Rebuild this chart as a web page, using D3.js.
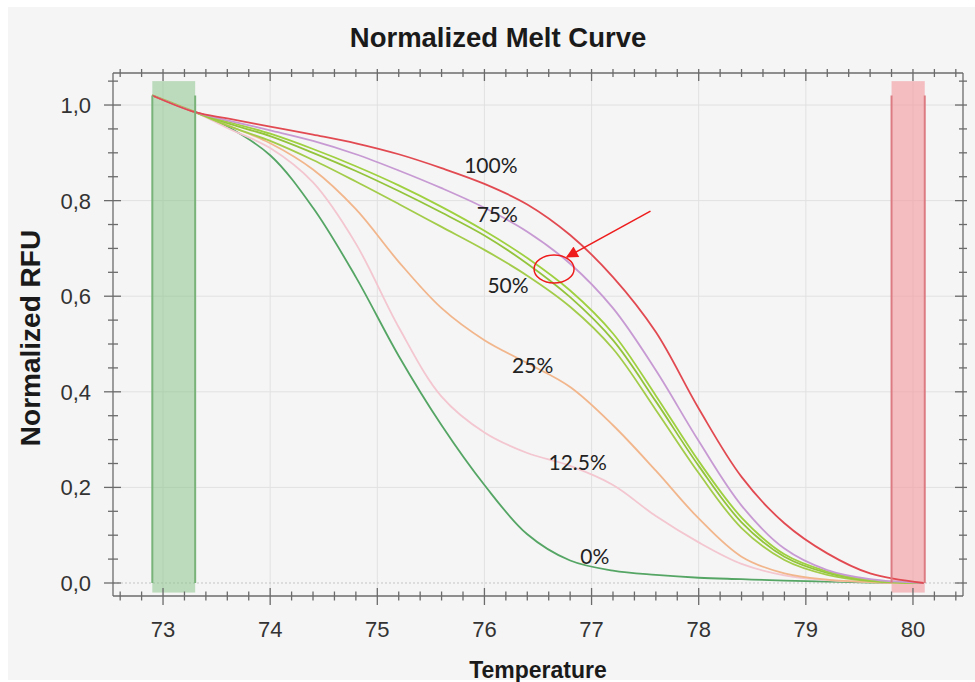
<!DOCTYPE html>
<html>
<head>
<meta charset="utf-8">
<script src="https://cdn.jsdelivr.net/npm/d3@7"></script>
<style>
  html, body { margin: 0; padding: 0; background: #ffffff; }
  svg { display: block; }
</style>
</head>
<body>
<svg id="chart" width="975" height="682"></svg>
<script>
// ---------------- data ----------------
const temps = [72.9, 73.3, 73.6, 74.0, 74.4, 74.8, 75.2, 75.6, 76.0, 76.4, 76.8, 77.2, 77.6, 78.0, 78.4, 78.8, 79.2, 79.6, 80.1];

const red100   = [1.02, 0.985, 0.972, 0.955, 0.938, 0.920, 0.897, 0.868, 0.835, 0.792, 0.728, 0.640, 0.525, 0.365, 0.222, 0.125, 0.062, 0.020, 0.0];
const purple75 = [1.02, 0.985, 0.968, 0.947, 0.925, 0.897, 0.863, 0.826, 0.785, 0.735, 0.668, 0.575, 0.445, 0.297, 0.162, 0.072, 0.027, 0.008, 0.0];
const greenA50 = [1.02, 0.985, 0.965, 0.940, 0.908, 0.872, 0.832, 0.787, 0.737, 0.680, 0.612, 0.522, 0.392, 0.255, 0.137, 0.060, 0.024, 0.006, 0.0];
const greenB50 = [1.02, 0.985, 0.962, 0.935, 0.900, 0.862, 0.820, 0.775, 0.727, 0.668, 0.598, 0.508, 0.380, 0.245, 0.127, 0.055, 0.021, 0.005, 0.0];
const greenC50 = [1.02, 0.985, 0.957, 0.925, 0.885, 0.840, 0.793, 0.745, 0.697, 0.643, 0.578, 0.490, 0.362, 0.230, 0.115, 0.048, 0.017, 0.004, 0.0];
const orange25 = [1.02, 0.985, 0.958, 0.920, 0.865, 0.782, 0.672, 0.575, 0.508, 0.460, 0.410, 0.330, 0.235, 0.135, 0.055, 0.020, 0.007, 0.002, 0.0];
const pink12   = [1.02, 0.985, 0.952, 0.910, 0.838, 0.710, 0.535, 0.390, 0.315, 0.272, 0.245, 0.205, 0.140, 0.085, 0.040, 0.016, 0.006, 0.002, 0.0];
const dgreen0  = [1.02, 0.985, 0.955, 0.895, 0.785, 0.640, 0.475, 0.330, 0.205, 0.102, 0.047, 0.026, 0.017, 0.011, 0.008, 0.005, 0.003, 0.001, 0.0];

const seriesNames  = ["0%", "12.5%", "25%", "50%a", "50%b", "50%c", "75%", "100%"];
const seriesValues = [dgreen0, pink12, orange25, greenC50, greenB50, greenA50, purple75, red100];
const seriesColors = ["#55a565", "#f3c6d0", "#f2b68c", "#a3cc4a", "#93c43c", "#9fd040", "#c79ad3", "#e24a52"];

const labelTexts = ["100%", "75%", "50%", "25%", "12.5%", "0%"];
const labelT     = [76.06, 76.12, 76.22, 76.45, 76.87, 77.03];
const labelV     = [0.874, 0.770, 0.623, 0.454, 0.251, 0.056];

const xMajor = [73, 74, 75, 76, 77, 78, 79, 80];
const yMajor = [0, 0.2, 0.4, 0.6, 0.8, 1.0];

// melt region markers (temperature ranges)
const startRegion = [72.9, 73.3];
const endRegion   = [79.8, 80.11];

// annotation (data coordinates)
const arrowFrom = [77.55, 0.778];
const arrowTo   = [76.77, 0.682];
const circleAt  = [76.65, 0.657];

// ---------------- chart ----------------
const svg = d3.select("#chart");
const W = 975, H = 682;
const m = {left: 113, right: 975 - 963, top: 73, bottom: 682 - 596};

svg.append("rect").attr("x", 8).attr("y", 7).attr("width", W - 8).attr("height", H - 9).attr("fill", "#f5f5f5");

const x = d3.scaleLinear().domain([72.533, 80.467]).range([m.left, W - m.right]);
const y = d3.scaleLinear().domain([-0.0272, 1.067]).range([H - m.bottom, m.top]);

const g = svg.append("g");

// grid
g.append("g").selectAll("line").data(xMajor).join("line")
  .attr("x1", d => x(d)).attr("x2", d => x(d))
  .attr("y1", y.range()[1]).attr("y2", y.range()[0])
  .attr("stroke", "#e1e1e1").attr("stroke-width", 1);
g.append("g").selectAll("line").data(yMajor.filter(d => d > 0)).join("line")
  .attr("x1", x.range()[0]).attr("x2", x.range()[1])
  .attr("y1", d => y(d)).attr("y2", d => y(d))
  .attr("stroke", "#e1e1e1").attr("stroke-width", 1);
g.append("line")
  .attr("x1", x.range()[0]).attr("x2", x.range()[1])
  .attr("y1", y(0)).attr("y2", y(0))
  .attr("stroke", "#c4c4c4").attr("stroke-width", 1).attr("stroke-dasharray", "2,2");

// region bars
function region(r, fill, edge) {
  g.append("rect")
    .attr("x", x(r[0])).attr("width", x(r[1]) - x(r[0]))
    .attr("y", y(1.05)).attr("height", y(-0.02) - y(1.05))
    .attr("fill", fill);
  return () => {
    r.forEach(t => {
      g.append("line").attr("x1", x(t)).attr("x2", x(t))
        .attr("y1", y(1.02)).attr("y2", y(0))
        .attr("stroke", edge).attr("stroke-width", 2);
    });
  };
}
const edgesG = region(startRegion, "rgba(140,196,140,0.55)", "#79b379");
const edgesR = region(endRegion, "rgba(242,160,164,0.65)", "#dc7c82");

// curves
const line = d3.line().x((d, i) => x(temps[i])).y(d => y(d)).curve(d3.curveCatmullRom.alpha(0.5));
g.append("g").selectAll("path").data(seriesValues).join("path")
  .attr("d", d => line(d))
  .attr("fill", "none")
  .attr("stroke", (d, i) => seriesColors[i])
  .attr("stroke-width", 1.8);

edgesG();
edgesR();

// axes
const axisColor = "#6b6b6b";
const xMinor = d3.range(72.6, 80.5, 0.2).map(v => +v.toFixed(1));
const yMinor = d3.range(0, 1.06, 0.05).map(v => +v.toFixed(2));

function frame() {
  const a = g.append("g").attr("stroke", axisColor).attr("stroke-width", 1.3);
  const [x0, x1] = x.range(), [y0, y1] = y.range();
  a.append("line").attr("x1", x0).attr("x2", x1).attr("y1", y0).attr("y2", y0);
  a.append("line").attr("x1", x0).attr("x2", x1).attr("y1", y1).attr("y2", y1);
  a.append("line").attr("x1", x0).attr("x2", x0).attr("y1", y0).attr("y2", y1);
  a.append("line").attr("x1", x1).attr("x2", x1).attr("y1", y0).attr("y2", y1);
  const isMajX = v => Math.abs(v - Math.round(v)) < 1e-6;
  const isMajY = v => Math.abs(v * 5 - Math.round(v * 5)) < 1e-6;
  xMinor.forEach(v => {
    const L = isMajX(v) ? 9 : 4.5;
    a.append("line").attr("x1", x(v)).attr("x2", x(v)).attr("y1", y0 - (isMajX(v) ? 8 : 4.5)).attr("y2", y0 + L);
    a.append("line").attr("x1", x(v)).attr("x2", x(v)).attr("y1", y1 - 4).attr("y2", y1 + (isMajX(v) ? 8 : 4));
  });
  yMinor.forEach(v => {
    const L = isMajY(v) ? 9 : 5;
    a.append("line").attr("y1", y(v)).attr("y2", y(v)).attr("x1", x0 - L).attr("x2", x0 + (isMajY(v) ? 8 : 5));
    a.append("line").attr("y1", y(v)).attr("y2", y(v)).attr("x1", x1 - (isMajY(v) ? 8 : 4)).attr("x2", x1 + 4);
  });
}
frame();

const fmt = d => d3.format(".1f")(d).replace(".", ",");
g.append("g").selectAll("text").data(yMajor).join("text")
  .attr("x", 91).attr("y", d => y(d)).attr("dy", "0.36em")
  .attr("text-anchor", "end")
  .attr("font-family", "Liberation Sans, Arial, sans-serif").attr("font-size", 22)
  .attr("fill", "#333").text(fmt);
g.append("g").selectAll("text").data(xMajor).join("text")
  .attr("x", d => x(d)).attr("y", 637)
  .attr("text-anchor", "middle")
  .attr("font-family", "Liberation Sans, Arial, sans-serif").attr("font-size", 22)
  .attr("fill", "#333").text(d => d);

// titles
svg.append("text").attr("x", 498).attr("y", 47).attr("text-anchor", "middle")
  .attr("font-family", "Liberation Sans, Arial, sans-serif").attr("font-weight", "bold")
  .attr("font-size", 27.5).attr("fill", "#1a1a1a").text("Normalized Melt Curve");
svg.append("text").attr("x", 538).attr("y", 678).attr("text-anchor", "middle")
  .attr("font-family", "Liberation Sans, Arial, sans-serif").attr("font-weight", "bold")
  .attr("font-size", 23).attr("fill", "#1a1a1a").text("Temperature");
svg.append("text").attr("transform", "translate(40,338) rotate(-90)").attr("text-anchor", "middle")
  .attr("font-family", "Liberation Sans, Arial, sans-serif").attr("font-weight", "bold")
  .attr("font-size", 28).attr("fill", "#1a1a1a").text("Normalized RFU");

// series labels
g.append("g").selectAll("text").data(labelTexts).join("text")
  .attr("x", (d, i) => x(labelT[i])).attr("y", (d, i) => y(labelV[i])).attr("dy", "0.35em")
  .attr("text-anchor", "middle")
  .attr("font-family", "Lato, 'Open Sans', sans-serif").attr("font-size", 21)
  .attr("fill", "#222").text(d => d);

// annotation
svg.append("defs").append("marker").attr("id", "ah")
  .attr("viewBox", "0 0 10 10").attr("refX", 9).attr("refY", 5)
  .attr("markerWidth", 14).attr("markerHeight", 12).attr("markerUnits", "userSpaceOnUse")
  .attr("orient", "auto")
  .append("path").attr("d", "M0,0 L10,5 L0,10 z").attr("fill", "#ee1c1c");
g.append("line")
  .attr("x1", x(arrowFrom[0])).attr("y1", y(arrowFrom[1]))
  .attr("x2", x(arrowTo[0])).attr("y2", y(arrowTo[1]))
  .attr("stroke", "#ee1c1c").attr("stroke-width", 1.5).attr("marker-end", "url(#ah)");
g.append("ellipse")
  .attr("cx", x(circleAt[0])).attr("cy", y(circleAt[1])).attr("rx", 20).attr("ry", 14)
  .attr("fill", "none").attr("stroke", "#ee1c1c").attr("stroke-width", 1.5);
</script>
</body>
</html>
